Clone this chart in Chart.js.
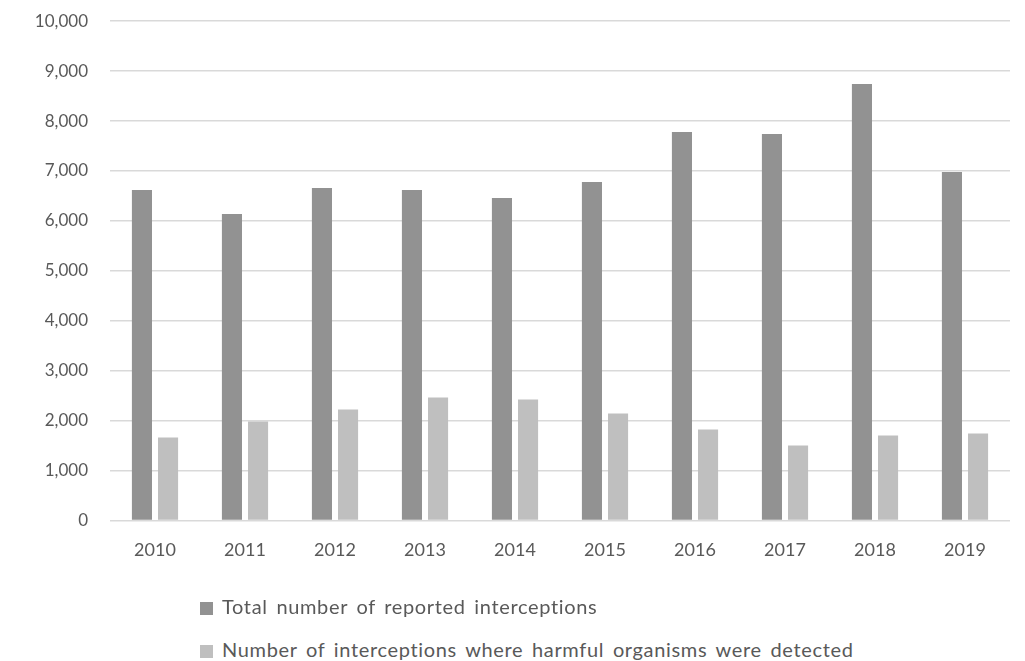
<!DOCTYPE html>
<html lang="en">
<head>
    <meta charset="UTF-8">
    <title>Interceptions</title>
    <script src="https://cdn.jsdelivr.net/npm/chart.js"></script>
    <style>
        body { margin: 0; background: #fff; font-family: Lato, "Open Sans", sans-serif; }
        #grafico { position: absolute; left: 0; top: -11px; width: 1025px; height: 623px; }
        .legenda { position: absolute; left: 200px; color: #595959; font-size: 20px; line-height: 20px; letter-spacing: 0.65px; word-spacing: 3px; white-space: nowrap; }
        .legenda span.caixa { display: inline-block; width: 13px; height: 13px; margin-right: 9px; vertical-align: -1px; }
    </style>
</head>
<body>
    <div id="grafico"><canvas id="interceptChart"></canvas></div>
    <div class="legenda" style="top:596px"><span class="caixa" style="background:#929292"></span>Total number of reported interceptions</div>
    <div class="legenda" style="top:639px"><span class="caixa" style="background:#bfbfbf"></span>Number of interceptions where harmful organisms were detected</div>

    <script>
        const anos = ['2010', '2011', '2012', '2013', '2014', '2015', '2016', '2017', '2018', '2019'];
        const totalInterceptacoes = [6620, 6140, 6660, 6620, 6460, 6780, 7780, 7740, 8740, 6980];
        const comOrganismos = [1660, 1980, 2220, 2460, 2420, 2140, 1820, 1500, 1700, 1740];

        const fonte = { family: 'Lato, "Open Sans", sans-serif', size: 17 };

        new Chart(document.getElementById('interceptChart'), {
            type: 'bar',
            data: {
                labels: anos,
                datasets: [{
                    label: 'Total number of reported interceptions',
                    data: totalInterceptacoes,
                    backgroundColor: '#929292',
                    barPercentage: 0.77,
                    categoryPercentage: 0.58
                }, {
                    label: 'Number of interceptions where harmful organisms were detected',
                    data: comOrganismos,
                    backgroundColor: '#bfbfbf',
                    barPercentage: 0.77,
                    categoryPercentage: 0.58
                }]
            },
            options: {
                responsive: true,
                maintainAspectRatio: false,
                animation: false,
                layout: { padding: { top: -1, right: 15, left: 0, bottom: 40 } },
                plugins: { legend: { display: false }, tooltip: { enabled: false } },
                scales: {
                    x: {
                        grid: { display: false },
                        border: { display: false },
                        ticks: { color: '#595959', font: { family: fonte.family, size: 18 }, padding: 11 }
                    },
                    y: {
                        min: 0,
                        max: 10000,
                        afterFit: s => { s.width = 110; },
                        grid: { color: '#d9d9d9', lineWidth: 1.5, drawTicks: false },
                        border: { display: false },
                        ticks: {
                            stepSize: 1000,
                            color: '#595959',
                            font: fonte,
                            padding: 22,
                            callback: v => v.toLocaleString('en-US')
                        }
                    }
                }
            }
        });
    </script>
</body>
</html>
